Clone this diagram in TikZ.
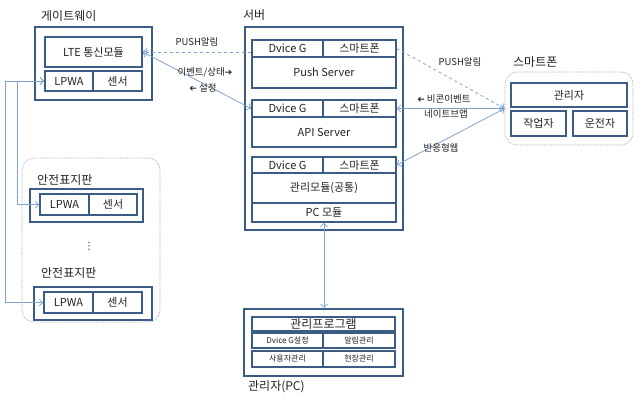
\documentclass[tikz,border=0pt]{standalone}
\usepackage{fontspec}
\usepackage{graphicx}
\setmainfont{Noto Sans CJK KR}
\newfontfamily\symfont{DejaVu Sans}
\usetikzlibrary{arrows.meta}
\definecolor{boxc}{HTML}{3A5C86}
\definecolor{linec}{HTML}{7FA3CF}
\definecolor{contc}{HTML}{8A97A8}
\definecolor{txt}{HTML}{222222}
\newcommand{\rarr}{{\symfont\fontsize{9}{9}\selectfont ➔}}
\newcommand{\larr}{\reflectbox{\symfont\fontsize{9}{9}\selectfont ➔}}
\begin{document}
\begin{tikzpicture}[x=1pt,y=-1pt,
  outerbox/.style={draw=boxc,line width=2.2pt,inner sep=0pt},
  cell/.style={draw=boxc,line width=1.6pt,inner sep=0pt,font=\fontsize{11}{12}\selectfont,text=txt},
  smallcell/.style={cell,font=\fontsize{8}{9}\selectfont},
  cont/.style={draw=contc,densely dotted,line width=0.7pt,rounded corners=12pt},
  title/.style={font=\fontsize{12}{13}\selectfont,text=txt,anchor=west,inner sep=0pt},
  lbl/.style={font=\fontsize{9.5}{10}\selectfont,text=txt,inner sep=0pt},
  conn/.style={draw=linec,line width=0.8pt,arrows={Straight Barb[length=3.5pt,width=7pt]-Straight Barb[length=3.5pt,width=7pt]}},
  dconn/.style={draw=linec,line width=0.8pt,dashed,-{Straight Barb[length=3.5pt,width=7pt]}}
]
\useasboundingbox (0,0) rectangle (643,404);

% ---------------- Gateway
\node[title] (gwt) at (41,16) {게이트웨이};
\node[outerbox,minimum width=117,minimum height=73] (gw) at (93.5,63.5) {};
\node[cell,minimum width=97,minimum height=30] (lte) at (93.5,52) {LTE 통신모듈};
\node[cell,minimum width=48,minimum height=20] (gwL) at (69,81) {LPWA};
\node[cell,minimum width=49,minimum height=20] (gwS) at (117.5,81) {센서};

% ---------------- Server
\node[title] (svt) at (243,15) {서버};
\node[outerbox,minimum width=158,minimum height=203] (sv) at (324,128.5) {};
% push
\node[cell,minimum width=71,minimum height=17] (pushG) at (287.5,48.5) {Dvice G};
\node[cell,minimum width=73,minimum height=17] (pushS) at (359.5,48.5) {스마트폰};
\node[cell,minimum width=144,minimum height=31] (push) at (324,72.5) {Push Server};
% api
\node[cell,minimum width=71,minimum height=17] (apiG) at (287.5,108.5) {Dvice G};
\node[cell,minimum width=73,minimum height=17] (apiS) at (359.5,108.5) {스마트폰};
\node[cell,minimum width=144,minimum height=30] (api) at (324,132) {API Server};
% management
\node[cell,minimum width=71,minimum height=16] (mgG) at (287.5,165) {Dvice G};
\node[cell,minimum width=73,minimum height=16] (mgS) at (359.5,165) {스마트폰};
\node[cell,minimum width=144,minimum height=30] (mg) at (324,188) {관리모듈(공통)};
\node[cell,minimum width=144,minimum height=19] (pcm) at (324,212.5) {PC 모듈};

% ---------------- Smartphone
\node[title] (spt) at (513,62) {스마트폰};
\node[cont,minimum width=128,minimum height=73,inner sep=0pt] (sp) at (569,108.5) {};
\node[cell,minimum width=116,minimum height=24] (adm) at (569,95) {관리자};
\node[cell,minimum width=55,minimum height=25] (wrk) at (538.5,123.5) {작업자};
\node[cell,minimum width=54,minimum height=25] (drv) at (600,123.5) {운전자};

% ---------------- Safety signs
\node[cont,minimum width=138,minimum height=164,inner sep=0pt] (sg) at (91,240) {};
\node[title] (s1t) at (37,180) {안전표지판};
\node[outerbox,minimum width=113,minimum height=33] (s1) at (86.5,205.5) {};
\node[cell,minimum width=49,minimum height=21] (s1L) at (64.5,204.5) {LPWA};
\node[cell,minimum width=48,minimum height=21] (s1S) at (113,204.5) {센서};
\node[font=\symfont\fontsize{10}{10}\selectfont,text=txt,inner sep=0pt] (dots) at (89,246) {⋮};
\node[title] (s2t) at (41,273) {안전표지판};
\node[outerbox,minimum width=118,minimum height=33] (s2) at (93,303.5) {};
\node[cell,minimum width=49,minimum height=21] (s2L) at (68.5,302.5) {LPWA};
\node[cell,minimum width=49,minimum height=21] (s2S) at (117.5,302.5) {센서};

% ---------------- PC
\node[outerbox,minimum width=159,minimum height=67] (pc) at (323.5,342.5) {};
\node[cell,minimum width=143,minimum height=14,font=\fontsize{12}{12}\selectfont] (prog) at (323.5,324) {관리프로그램};
\node[smallcell,minimum width=71,minimum height=15] (p1) at (287.5,340.5) {Dvice G설정};
\node[smallcell,minimum width=72,minimum height=15] (p2) at (359,340.5) {알림관리};
\node[smallcell,minimum width=71,minimum height=16] (p3) at (287.5,359) {사용자관리};
\node[smallcell,minimum width=72,minimum height=16] (p4) at (359,359) {현장관리};
\node[title] (pct) at (248,387) {관리자(PC)};

% ---------------- Connectors
\draw[dconn] (pushG.west |- lte.east) -- (lte.east);
\node[lbl] (l1) at (197,42) {PUSH알림};
\draw[conn] (lte.east) -- (apiG.west);
\node[lbl] (l2) at (205,72) {이벤트/상태\rarr};
\node[lbl] (l3) at (203,88) {\larr\ 설정};

\draw[dconn] (pushS.east) -- (sp.west);
\node[lbl] (l4) at (460,62) {PUSH알림};
\draw[conn] (apiS.east) -- (sp.west);
\node[lbl] (l5) at (444,99) {\larr\ 비콘이벤트};
\node[lbl] (l6) at (446,114) {네이트브앱};
\draw[conn] (mgS.east) -- (sp.west);
\node[lbl] (l7) at (441,148) {반응형웹};

\draw[conn] (pcm.south) -- (pcm.south |- pc.north);

\draw[conn] (gwL.west) -- ([xshift=-27pt]gwL.west) |- (s1L.west);
\draw[conn] (gwL.west) -- ([xshift=-39pt]gwL.west) |- (s2L.west);
\end{tikzpicture}
\end{document}
